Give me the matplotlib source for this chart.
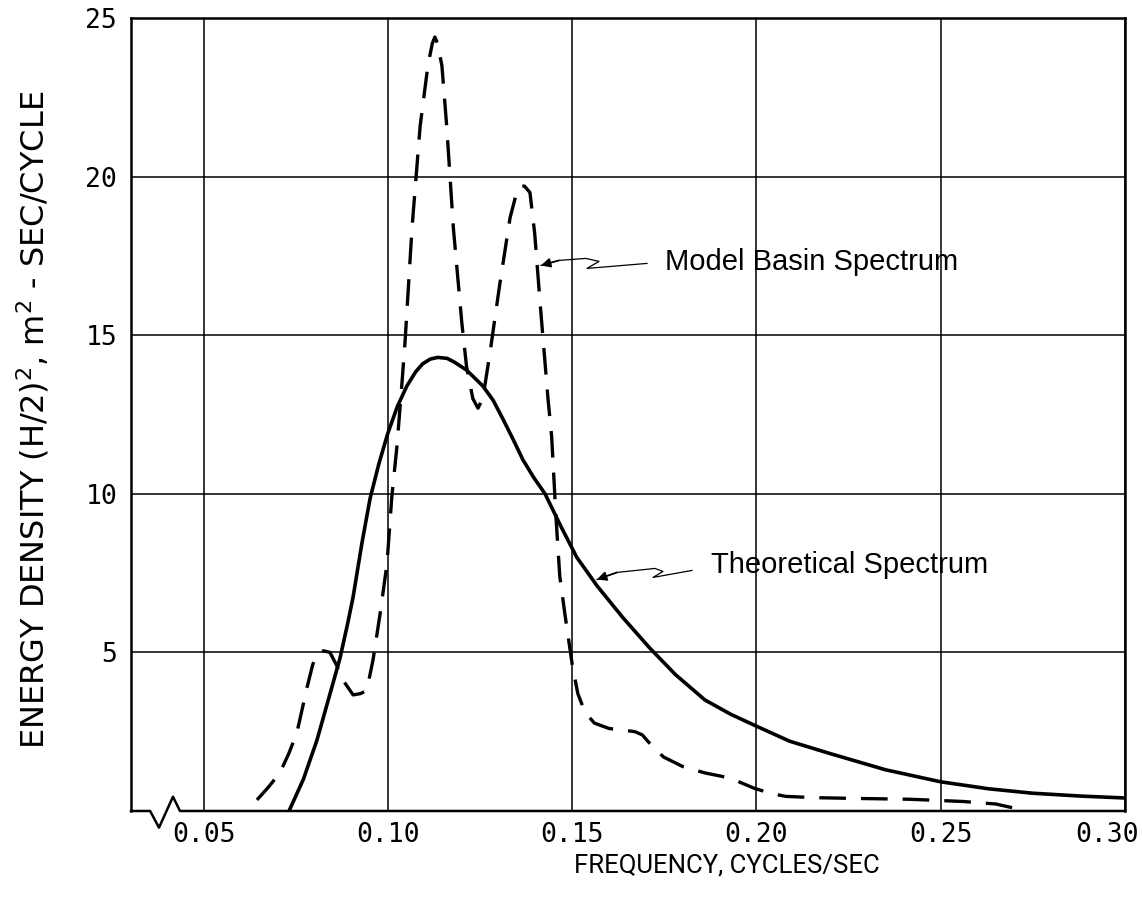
"""
Wave energy spectra: model basin vs theoretical
"""

import numpy as np
import matplotlib
matplotlib.use("Agg")
import matplotlib.pyplot as plt
import matplotlib.transforms as mtransforms

# frequency (cycles/sec) and energy density (m^2-sec/cycle)
theo_f = [0.0731, 0.0770, 0.0807, 0.0840, 0.0869, 0.0890, 0.0905, 0.0929,
          0.0951, 0.0975, 0.0999, 0.1025, 0.1051, 0.1075, 0.1094, 0.1115,
          0.1135, 0.1160, 0.1180, 0.1213, 0.1257, 0.1285, 0.1312, 0.1340,
          0.1366, 0.1396, 0.1426, 0.1470, 0.1512, 0.1567, 0.1637, 0.1710,
          0.1780, 0.1860, 0.1930, 0.1993, 0.2090, 0.2194, 0.2350, 0.2500,
          0.2630, 0.2750, 0.2880, 0.3000]
theo_e = [0.0, 1.0, 2.24, 3.6, 4.8, 5.9, 6.75, 8.45,
          9.85, 10.95, 11.9, 12.75, 13.4, 13.85, 14.1, 14.25,
          14.3, 14.27, 14.15, 13.9, 13.4, 12.95, 12.35, 11.7,
          11.07, 10.5, 10.0, 8.95, 8.0, 7.1, 6.1, 5.14,
          4.3, 3.5, 3.05, 2.71, 2.2, 1.83, 1.3, 0.92,
          0.7, 0.56, 0.47, 0.41]

basin_f = [0.0644, 0.0675, 0.0706, 0.0730, 0.0752, 0.0780, 0.0795, 0.0807,
           0.0825, 0.0842, 0.0860, 0.0877, 0.0905, 0.0925, 0.0942, 0.0959,
           0.0978, 0.0997, 0.1010, 0.1024, 0.1037, 0.1046, 0.1065, 0.1087,
           0.1108, 0.1120, 0.1127, 0.1134, 0.1146, 0.1159, 0.1177, 0.1200,
           0.1213, 0.1230, 0.1244, 0.1257, 0.1276, 0.1303, 0.1331, 0.1350,
           0.1358, 0.1370, 0.1385, 0.1398, 0.1412, 0.1434, 0.1444, 0.1456,
           0.1466, 0.1480, 0.1500, 0.1515, 0.1535, 0.1560, 0.1600, 0.1638,
           0.1670, 0.1690, 0.1720, 0.1748, 0.1800, 0.1860, 0.1928, 0.1993,
           0.2040, 0.2080, 0.2160, 0.2248, 0.2416, 0.2560, 0.2650, 0.2715]
basin_e = [0.35, 0.75, 1.2, 1.8, 2.45, 3.9, 4.6, 4.98,
           5.05, 5.0, 4.6, 4.13, 3.66, 3.7, 3.8, 4.76,
           6.2, 7.8, 9.9, 11.5, 13.4, 14.8, 18.4, 21.6,
           23.5, 24.2, 24.4, 24.2, 23.5, 21.6, 18.4, 15.4,
           14.0, 13.0, 12.7, 13.0, 14.4, 16.6, 18.7, 19.55,
           19.7, 19.7, 19.5, 18.2, 16.1, 13.0, 11.8, 9.2,
           7.4, 6.2, 4.6, 3.7, 3.1, 2.77, 2.6, 2.55,
           2.5, 2.4, 2.0, 1.7, 1.4, 1.2, 1.04, 0.72,
           0.55, 0.46, 0.42, 0.4, 0.37, 0.3, 0.22, 0.05]

xticks = [0.05, 0.10, 0.15, 0.20, 0.25, 0.30]
xticklabels = ["0.05", "0.10", "0.15", "0.20", "0.25", "0.30"]
yticks = [5, 10, 15, 20, 25]

fig = plt.figure(figsize=(11.42, 9.0), dpi=100)
ax = fig.add_axes([0.1147, 0.0989, 0.8703, 0.8811])

ax.set_xlim(0.0302, 0.30)
ax.set_ylim(0, 25)

ax.set_xticks(xticks)
ax.set_xticklabels(xticklabels, family="DejaVu Sans Mono", fontsize=19)
ax.set_yticks(yticks)
ax.set_yticklabels([str(v) for v in yticks], family="DejaVu Sans Mono", fontsize=19)
ax.tick_params(length=0, pad=8)
ax.tick_params(axis="y", pad=10)
# last x label sits a bit left so it stays inside the figure
lab = ax.get_xticklabels()[-1]
lab.set_transform(lab.get_transform() + mtransforms.ScaledTranslation(-18 / 100, 0, fig.dpi_scale_trans))

ax.grid(True, color="black", lw=1.1)
for s in ax.spines.values():
    s.set_linewidth(1.8)
ax.spines["bottom"].set_visible(False)

# bottom axis with the break zigzag
bt = ax.get_xaxis_transform()
ax.plot([0.0302, 0.0354, 0.0378, 0.0416, 0.0435, 0.30],
        [0, 0, -0.021, 0.018, 0, 0],
        color="black", lw=1.8, transform=bt, clip_on=False, zorder=5)

ax.plot(theo_f, theo_e, color="black", lw=2.6, solid_capstyle="butt")
ax.plot(basin_f, basin_e, color="black", lw=2.4, linestyle=(0, (8, 4.5)))

ax.text(0.5 + 0.1, -0.054, "FREQUENCY, CYCLES/SEC", transform=ax.transAxes,
        family="Roboto", fontsize=18.5, ha="center", va="top")
fig.text(0.029, 0.533, r"ENERGY DENSITY (H/2)$^2$, m$^2$ - SEC/CYCLE",
         family="DejaVu Sans", fontsize=23, rotation=90, ha="center", va="center")


# little squiggly leader lines from label to curve
def leader(tip, offs):
    x0, y0 = ax.transData.transform(tip)
    xs = [x0 + dx for dx, dy in offs]
    ys = [y0 + dy for dx, dy in offs]
    ax.plot(xs, ys, color="black", lw=0.9, transform=None, clip_on=False)
    ax.annotate("", xy=tip, xytext=(x0 + offs[1][0], y0 + offs[1][1]),
                textcoords="figure pixels",
                arrowprops=dict(arrowstyle="-|>", color="black", lw=1.2,
                                mutation_scale=14, shrinkA=0, shrinkB=0))


leader((0.1415, 17.2), [(0, 0), (18, 5), (45, 7), (58, 4), (46, -3), (106, 2)])
ax.text(0.1751, 17.3, "Model Basin Spectrum", fontsize=21, va="center",
        family="Liberation Sans")

leader((0.1567, 7.3), [(0, 0), (20, 7), (58, 11), (66, 8), (56, 2), (95, 9)])
ax.text(0.1876, 7.75, "Theoretical Spectrum", fontsize=21, va="center",
        family="Liberation Sans")

fig.savefig("out.png", dpi=100)
